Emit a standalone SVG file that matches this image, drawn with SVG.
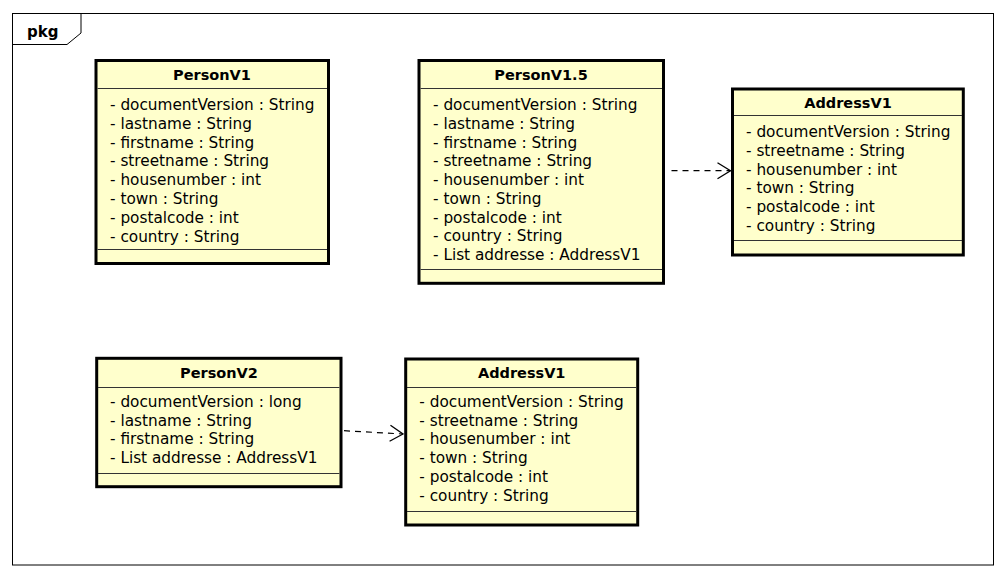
<svg xmlns="http://www.w3.org/2000/svg" width="1008" height="578" viewBox="0 0 1008 578">
<defs>
<style>
.box{fill:#FFFFCC;stroke:#000;stroke-width:3}
.sep{stroke:#333;stroke-width:1}
.title{font-family:"DejaVu Sans",sans-serif;font-size:14.5px;font-weight:bold;fill:#000;text-anchor:middle}
.attr{font-family:"DejaVu Sans",sans-serif;font-size:15.3px;fill:#000}
.frame{fill:none;stroke:#000;stroke-width:1}
.pkg{font-family:"DejaVu Sans",sans-serif;font-size:15px;font-weight:bold;fill:#000}
.dep{fill:none;stroke:#000;stroke-width:1.2;stroke-dasharray:6,5}
</style>
<marker id="open" viewBox="-1 -9 16 18" refX="13" refY="0" markerWidth="16" markerHeight="18" markerUnits="userSpaceOnUse" orient="auto">
<path d="M0,-8 L13,0 L0,8" fill="none" stroke="#000" stroke-width="1.3"/>
</marker>
</defs>
<rect width="1008" height="578" fill="#fff"/>
<g id="frame">
<rect class="frame" x="12.5" y="13.5" width="981" height="551.5"/>
<path class="frame" d="M12.5,44.5 H67 L81,33 V13.5"/>
<text class="pkg" x="27" y="36.5">pkg</text>
</g>
<g id="PersonV1">
<rect class="box" x="96" y="60.5" width="232.5" height="203"/>
<line class="sep" x1="97.5" y1="88.5" x2="327" y2="88.5"/>
<line class="sep" x1="97.5" y1="249.5" x2="327" y2="249.5"/>
<text class="title" x="212" y="80">PersonV1</text>
<text class="attr" x="110" y="110">- documentVersion : String</text>
<text class="attr" x="110" y="128.8">- lastname : String</text>
<text class="attr" x="110" y="147.6">- firstname : String</text>
<text class="attr" x="110" y="166.4">- streetname : String</text>
<text class="attr" x="110" y="185.2">- housenumber : int</text>
<text class="attr" x="110" y="204">- town : String</text>
<text class="attr" x="110" y="222.8">- postalcode : int</text>
<text class="attr" x="110" y="241.6">- country : String</text>
</g>
<g id="PersonV1_5">
<rect class="box" x="419" y="60.5" width="244.5" height="222.8"/>
<line class="sep" x1="420.5" y1="88.5" x2="662" y2="88.5"/>
<line class="sep" x1="420.5" y1="269.5" x2="662" y2="269.5"/>
<text class="title" x="541" y="80">PersonV1.5</text>
<text class="attr" x="433" y="110">- documentVersion : String</text>
<text class="attr" x="433" y="128.75">- lastname : String</text>
<text class="attr" x="433" y="147.5">- firstname : String</text>
<text class="attr" x="433" y="166.25">- streetname : String</text>
<text class="attr" x="433" y="185">- housenumber : int</text>
<text class="attr" x="433" y="203.75">- town : String</text>
<text class="attr" x="433" y="222.5">- postalcode : int</text>
<text class="attr" x="433" y="241.25">- country : String</text>
<text class="attr" x="433" y="260">- List addresse : AddressV1</text>
</g>
<g id="AddressV1_top">
<rect class="box" x="732.5" y="89" width="230.8" height="166"/>
<line class="sep" x1="734" y1="115.5" x2="962" y2="115.5"/>
<line class="sep" x1="734" y1="240.5" x2="962" y2="240.5"/>
<text class="title" x="848" y="108.3">AddressV1</text>
<text class="attr" x="746" y="137.3">- documentVersion : String</text>
<text class="attr" x="746" y="156">- streetname : String</text>
<text class="attr" x="746" y="174.7">- housenumber : int</text>
<text class="attr" x="746" y="193.4">- town : String</text>
<text class="attr" x="746" y="212.1">- postalcode : int</text>
<text class="attr" x="746" y="230.8">- country : String</text>
</g>
<g id="PersonV2">
<rect class="box" x="96.7" y="358.3" width="244.3" height="128.4"/>
<line class="sep" x1="98" y1="387.5" x2="339.5" y2="387.5"/>
<line class="sep" x1="98" y1="473.5" x2="339.5" y2="473.5"/>
<text class="title" x="219" y="378.3">PersonV2</text>
<text class="attr" x="110" y="406.7">- documentVersion : long</text>
<text class="attr" x="110" y="425.6">- lastname : String</text>
<text class="attr" x="110" y="444.4">- firstname : String</text>
<text class="attr" x="110" y="463.3">- List addresse : AddressV1</text>
</g>
<g id="AddressV1_bottom">
<rect class="box" x="405.7" y="359" width="232" height="166"/>
<line class="sep" x1="407" y1="387.5" x2="636" y2="387.5"/>
<line class="sep" x1="407" y1="511.5" x2="636" y2="511.5"/>
<text class="title" x="521.7" y="378.3">AddressV1</text>
<text class="attr" x="419.3" y="406.7">- documentVersion : String</text>
<text class="attr" x="419.3" y="425.5">- streetname : String</text>
<text class="attr" x="419.3" y="444.3">- housenumber : int</text>
<text class="attr" x="419.3" y="463.1">- town : String</text>
<text class="attr" x="419.3" y="481.9">- postalcode : int</text>
<text class="attr" x="419.3" y="500.7">- country : String</text>
</g>
<g id="connectors">
<path class="dep" d="M671.5,170.7 L730.5,170.7" marker-end="url(#open)"/>
<path class="dep" d="M344,430.7 L403,434" marker-end="url(#open)"/>
</g>
</svg>
